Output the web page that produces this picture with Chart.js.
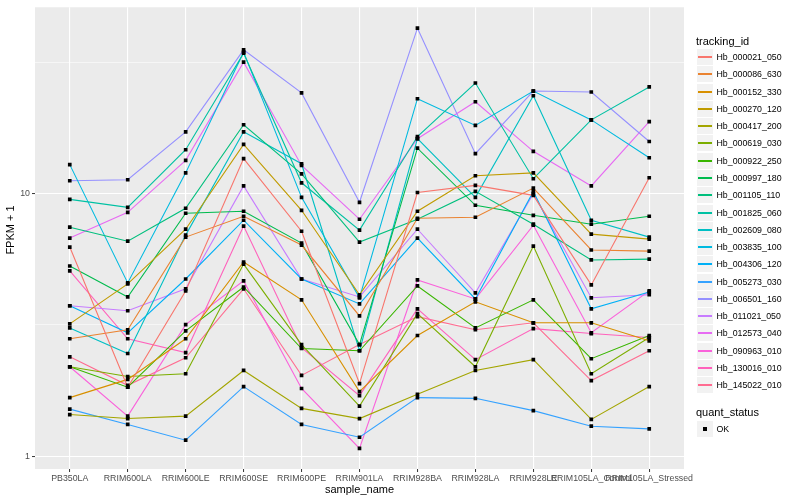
<!DOCTYPE html>
<html>
<head>
<meta charset="utf-8">
<script src="https://cdn.jsdelivr.net/npm/chart.js@4.4.0/dist/chart.umd.min.js"></script>
<style>
body{margin:0;background:#fff;font-family:"Liberation Sans",Arial,sans-serif;}
#wrap{position:relative;width:800px;height:500px;}
#chart{position:absolute;left:0;top:0;}
.ttl{position:absolute;left:696px;font-size:11px;color:#000;line-height:14px;white-space:nowrap;}
.key{position:absolute;left:697px;width:16px;height:16px;background:#F2F2F2;}
.key i{position:absolute;left:1px;width:14px;top:7px;height:1.6px;}
.key b{position:absolute;left:6px;top:6px;width:4px;height:4px;background:#000;}
.lab{position:absolute;left:716.5px;font-size:8.8px;color:#000;line-height:16px;white-space:nowrap;}
</style>
</head>
<body>
<div id="wrap">
<canvas id="chart" width="800" height="500"></canvas>
<div id="legend"></div>
</div>
<script>
/* values (FPKM + 1) */
var categories = ["PB350LA","RRIM600LA","RRIM600LE","RRIM600SE","RRIM600PE","RRIM901LA","RRIM928BA","RRIM928LA","RRIM928LE","RRIM105LA_Control","RRIM105LA_Stressed"];

var trackingIds = ["Hb_000021_050","Hb_000086_630","Hb_000152_330","Hb_000270_120","Hb_000417_200","Hb_000619_030","Hb_000922_250","Hb_000997_180","Hb_001105_110","Hb_001825_060","Hb_002609_080","Hb_003835_100","Hb_004306_120","Hb_005273_030","Hb_006501_160","Hb_011021_050","Hb_012573_040","Hb_090963_010","Hb_130016_010","Hb_145022_010"];

var lineColors = ["#F8766D","#EA8331","#D89000","#C09B00","#A3A500","#7CAE00","#39B600","#00BB4E","#00BF7D","#00C1A3","#00BFC4","#00BAE0","#00B0F6","#35A2FF","#9590FF","#C77CFF","#E76BF3","#FA62DB","#FF62BC","#FF6C91"];

var hb000021 = [6.26, 1.83, 4.26, 13.6, 7.19, 1.89, 10.1, 10.75, 9.85, 4.49, 11.5];
var hb000086 = [2.80, 3.03, 6.83, 8.20, 6.37, 3.42, 8.06, 8.13, 10.5, 6.10, 6.04];
var hb000152 = [1.67, 1.96, 2.80, 5.49, 3.94, 1.76, 2.88, 3.87, 3.22, 3.22, 2.75];
var hb000270 = [3.19, 4.53, 7.32, 15.4, 8.64, 4.12, 8.57, 11.7, 12.0, 7.01, 6.71];
var hb000417 = [1.44, 1.39, 1.42, 2.12, 1.52, 1.39, 1.72, 2.12, 2.33, 1.38, 1.84];
var hb000619 = [2.19, 2.01, 2.06, 5.39, 2.66, 1.55, 3.49, 2.19, 6.31, 2.06, 2.83];
var hb000922 = [2.19, 1.83, 3.00, 4.41, 2.57, 2.52, 4.45, 3.08, 3.94, 2.35, 2.88];
var hb000997 = [5.30, 4.04, 8.42, 8.57, 6.48, 2.66, 14.9, 9.03, 8.27, 7.65, 8.20];
var hb001105 = [7.45, 6.59, 8.80, 18.3, 11.9, 6.54, 7.99, 10.2, 7.65, 5.59, 5.63];
var hb001825 = [9.51, 8.87, 14.7, 34.3, 11.0, 7.26, 16.5, 26.4, 11.4, 19.1, 25.5];
var hb002609 = [3.08, 2.46, 6.95, 17.2, 13.0, 2.52, 16.2, 9.68, 23.6, 7.92, 6.83];
var hb003835 = [12.9, 4.57, 12.0, 34.6, 9.68, 4.01, 23.0, 18.2, 24.6, 19.1, 13.7];
var hb004306 = [3.74, 2.95, 4.73, 7.92, 4.73, 3.80, 6.77, 3.97, 10.2, 3.64, 4.22];
var hb005273 = [1.51, 1.32, 1.15, 1.84, 1.32, 1.18, 1.67, 1.66, 1.49, 1.30, 1.27];
var hb006501 = [11.2, 11.3, 17.2, 35.3, 24.2, 9.27, 42.7, 14.2, 24.6, 24.4, 15.8];
var hb011021 = [3.74, 3.58, 4.34, 10.7, 4.73, 4.04, 7.32, 4.19, 10.0, 4.01, 4.12];
var hb012573 = [6.77, 8.49, 13.4, 31.7, 12.8, 7.99, 16.2, 22.4, 14.5, 10.7, 18.8];
var hb090963 = [2.19, 1.42, 3.17, 4.65, 1.81, 1.07, 4.69, 3.97, 7.58, 2.95, 4.26];
var hb130016 = [5.08, 2.80, 2.48, 7.52, 2.59, 1.70, 3.64, 2.33, 3.06, 2.93, 2.83];
var hb145022 = [2.39, 1.86, 2.37, 4.34, 2.03, 2.66, 3.40, 3.03, 3.22, 1.94, 2.52];

var seriesValues = [hb000021,hb000086,hb000152,hb000270,hb000417,hb000619,hb000922,hb000997,hb001105,hb001825,hb002609,hb003835,hb004306,hb005273,hb006501,hb011021,hb012573,hb090963,hb130016,hb145022];

var yTicks = [1, 3.1623, 10, 31.623];
var yLabels = ["1", "", "10", ""];

var fam = '"Liberation Sans", Arial, sans-serif';

var datasets = [];
var allPoints = [];
for (var k = 0; k < seriesValues.length; k++) {
    var pts = seriesValues[k].map(function (v, i) { return {x: i, y: v}; });
    allPoints = allPoints.concat(pts);
    datasets.push({
        type: 'line',
        label: trackingIds[k],
        data: pts,
        borderColor: lineColors[k],
        borderWidth: 1.1,
        pointRadius: 0,
        tension: 0,
        order: 1
    });
}
//points on top of every line, like geom_point after geom_line
datasets.push({
    type: 'line',
    label: 'OK',
    data: allPoints,
    showLine: false,
    pointStyle: 'rect',
    pointRadius: 2.6,
    pointBorderWidth: 0,
    pointBackgroundColor: '#000',
    order: 0
});

var panelBg = {
    id: 'panelBg',
    beforeDraw: function (chart) {
        var a = chart.chartArea, ctx = chart.ctx;
        ctx.save();
        ctx.fillStyle = '#EBEBEB';
        ctx.fillRect(a.left, a.top, a.right - a.left, a.bottom - a.top);
        ctx.restore();
    }
};

//y axis title drawn by hand so it sits where the reference has it
var yTitle = {
    id: 'yTitle',
    afterDraw: function (chart) {
        var ctx = chart.ctx;
        ctx.save();
        ctx.translate(11, 230);
        ctx.rotate(-Math.PI / 2);
        ctx.fillStyle = '#000';
        ctx.font = '11px ' + fam;
        ctx.textAlign = 'center';
        ctx.textBaseline = 'middle';
        ctx.fillText('FPKM + 1', 0, 0);
        ctx.restore();
    }
};

function isMajor(c) {
    return c.tick && (c.tick.value === 1 || c.tick.value === 10);
}

new Chart(document.getElementById("chart"), {
    type: 'line',
    data: {datasets: datasets},
    plugins: [panelBg, yTitle],
    options: {
        responsive: false,
        animation: false,
        layout: {padding: {left: 0, right: 116, top: 5, bottom: 0}},
        plugins: {legend: {display: false}, tooltip: {enabled: false}},
        scales: {
            x: {
                type: 'linear',
                min: -0.6,
                max: 10.6,
                afterBuildTicks: function (s) {
                    s.ticks = categories.map(function (c, i) { return {value: i}; });
                },
                afterFit: function (s) { s.height = 31; },
                ticks: {
                    autoSkip: false, maxRotation: 0, minRotation: 0,
                    color: '#4D4D4D', font: {size: 8.8, family: fam}, padding: 1,
                    callback: function (v) { return categories[v]; }
                },
                grid: {color: '#FFFFFF', lineWidth: 1.1, tickColor: '#333333', tickLength: 3, tickWidth: 1},
                border: {display: false},
                title: {display: true, text: 'sample_name', color: '#000', font: {size: 11, family: fam}, padding: {top: 0, bottom: 3}}
            },
            y: {
                type: 'logarithmic',
                min: 0.893,
                max: 51.3,
                afterBuildTicks: function (s) {
                    s.ticks = yTicks.map(function (v) { return {value: v}; });
                },
                afterFit: function (s) { s.width = 35; },
                ticks: {
                    autoSkip: false, color: '#4D4D4D', font: {size: 8.8, family: fam}, padding: 2,
                    callback: function (v, i) { return yLabels[i]; }
                },
                grid: {
                    color: '#FFFFFF',
                    lineWidth: function (c) { return isMajor(c) ? 1.1 : 0.55; },
                    tickColor: function (c) { return isMajor(c) ? '#333333' : 'rgba(0,0,0,0)'; },
                    tickLength: 3, tickWidth: 1
                },
                border: {display: false},
                title: {display: false}
            }
        }
    }
});

//legend, two guides like ggplot
var lg = document.getElementById("legend");
var html = '<div class="ttl" style="top:34px">tracking_id</div>';
for (var j = 0; j < trackingIds.length; j++) {
    var rowTop = Math.round(57 + j * 17.28 - 8);
    html += '<div class="key" style="top:' + rowTop + 'px"><i style="background:' + lineColors[j] + '"></i></div>';
    html += '<div class="lab" style="top:' + rowTop + 'px">' + trackingIds[j] + '</div>';
}
html += '<div class="ttl" style="top:405px">quant_status</div>';
html += '<div class="key" style="top:421px"><b></b></div>';
html += '<div class="lab" style="top:421px">OK</div>';
lg.innerHTML = html;
</script>
</body>
</html>
